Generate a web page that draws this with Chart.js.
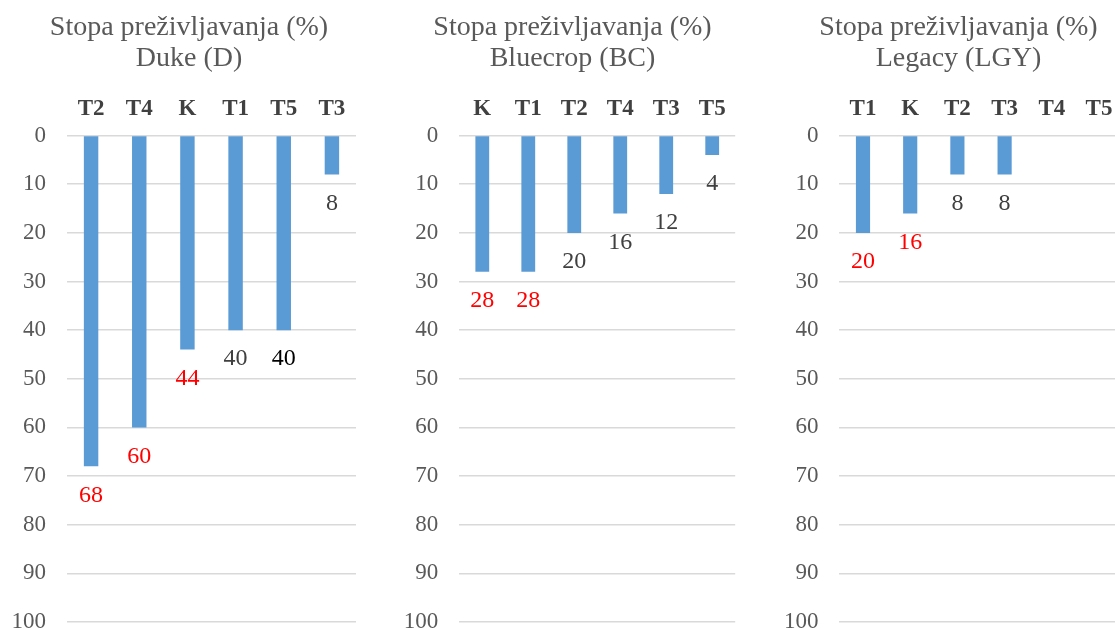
<!DOCTYPE html>
<html>
<head>
<meta charset="utf-8">
<script src="https://cdn.jsdelivr.net/npm/chart.js@4.4.0/dist/chart.umd.min.js"></script>
<style>
  html, body { margin: 0; padding: 0; background: #fff; overflow: hidden; width: 1115px; height: 630px; }
  .panel { position: absolute; top: 0; }
</style>
</head>
<body>
<div class="panel" style="left:0px"><canvas id="chart-d" width="378" height="636"></canvas></div>
<div class="panel" style="left:383px"><canvas id="chart-bc" width="378" height="636"></canvas></div>
<div class="panel" style="left:768px"><canvas id="chart-lgy" width="380" height="636"></canvas></div>
<script>
// survival rate (%) per treatment, sorted as in the original figure
const titleMain = 'Stopa preživljavanja (%)';

const dukeLabels = ['T2', 'T4', 'K', 'T1', 'T5', 'T3'];
const dukeValues = [68, 60, 44, 40, 40, 8];
const dukeLabelColors = ['#ff0000', '#ff0000', '#ff0000', '#404040', '#000000', '#404040'];

const bluecropLabels = ['K', 'T1', 'T2', 'T4', 'T3', 'T5'];
const bluecropValues = [28, 28, 20, 16, 12, 4];
const bluecropLabelColors = ['#ff0000', '#ff0000', '#404040', '#404040', '#404040', '#404040'];

const legacyLabels = ['T1', 'K', 'T2', 'T3', 'T4', 'T5'];
const legacyValues = [20, 16, 8, 8, 0, 0];
const legacyLabelColors = ['#ff0000', '#ff0000', '#404040', '#404040', null, null];

const yMin = 0;
const yMax = 100;
const yStep = 10;

const serif = '"Liberation Serif", "Times New Roman", serif';

// y labels are mirrored (so they are not clipped to the narrow axis box),
// then pushed back left of the plot by the widest label + gap
const measure = document.createElement('canvas').getContext('2d');
measure.font = '23px ' + serif;
const widestTick = measure.measureText(String(yMax)).width;

const valueLabels = {
    id: 'valueLabels',
    afterDatasetsDraw(chart, args, opts) {
        const ctx = chart.ctx;
        const meta = chart.getDatasetMeta(0);
        const data = chart.data.datasets[0].data;
        ctx.save();
        ctx.font = '24px ' + serif;
        ctx.textAlign = 'center';
        ctx.textBaseline = 'middle';
        meta.data.forEach((bar, i) => {
            if (!data[i] || !opts.colors[i]) return;
            ctx.fillStyle = opts.colors[i];
            ctx.fillText(String(data[i]), bar.x, bar.y + 29);
        });
        ctx.restore();
    }
};

function makeChart(id, subtitle, labels, values, labelColors, axisWidth, leftPad, rightPad) {
    return new Chart(document.getElementById(id), {
        type: 'bar',
        data: {
            labels: labels,
            datasets: [{
                data: values,
                backgroundColor: '#5b9bd5',
                barPercentage: 0.3,
                categoryPercentage: 1
            }]
        },
        options: {
            responsive: false,
            animation: false,
            layout: { padding: { left: leftPad, right: rightPad, bottom: 14, top: 0 } },
            plugins: {
                legend: { display: false },
                tooltip: { enabled: false },
                title: {
                    display: true,
                    text: [titleMain, subtitle],
                    color: '#595959',
                    font: { family: serif, size: 28, weight: 'normal', lineHeight: 1.1 },
                    padding: { top: 12, bottom: 0 }
                },
                valueLabels: { colors: labelColors }
            },
            scales: {
                x: {
                    position: 'top',
                    grid: { display: false, drawTicks: false },
                    border: { display: false },
                    ticks: {
                        color: '#404040',
                        padding: 13,
                        font: { family: serif, size: 23, weight: 'bold' }
                    },
                    afterFit(scale) { scale.height = 62; }
                },
                y: {
                    reverse: true,
                    min: yMin,
                    max: yMax,
                    grid: { color: '#d9d9d9', lineWidth: 1.5, drawTicks: false },
                    border: { display: false },
                    ticks: {
                        stepSize: yStep,
                        color: '#595959',
                        mirror: true,
                        crossAlign: 'far',
                        padding: -(21 + widestTick),
                        font: { family: serif, size: 23 }
                    },
                    afterFit(scale) { scale.width = axisWidth; }
                }
            }
        },
        plugins: [valueLabels]
    });
}

makeChart('chart-d', 'Duke (D)', dukeLabels, dukeValues, dukeLabelColors, 45, 22, 22);
makeChart('chart-bc', 'Bluecrop (BC)', bluecropLabels, bluecropValues, bluecropLabelColors, 49.5, 26.8, 25.8);
makeChart('chart-lgy', 'Legacy (LGY)', legacyLabels, legacyValues, legacyLabelColors, 45, 26.4, 25.4);
</script>
</body>
</html>
